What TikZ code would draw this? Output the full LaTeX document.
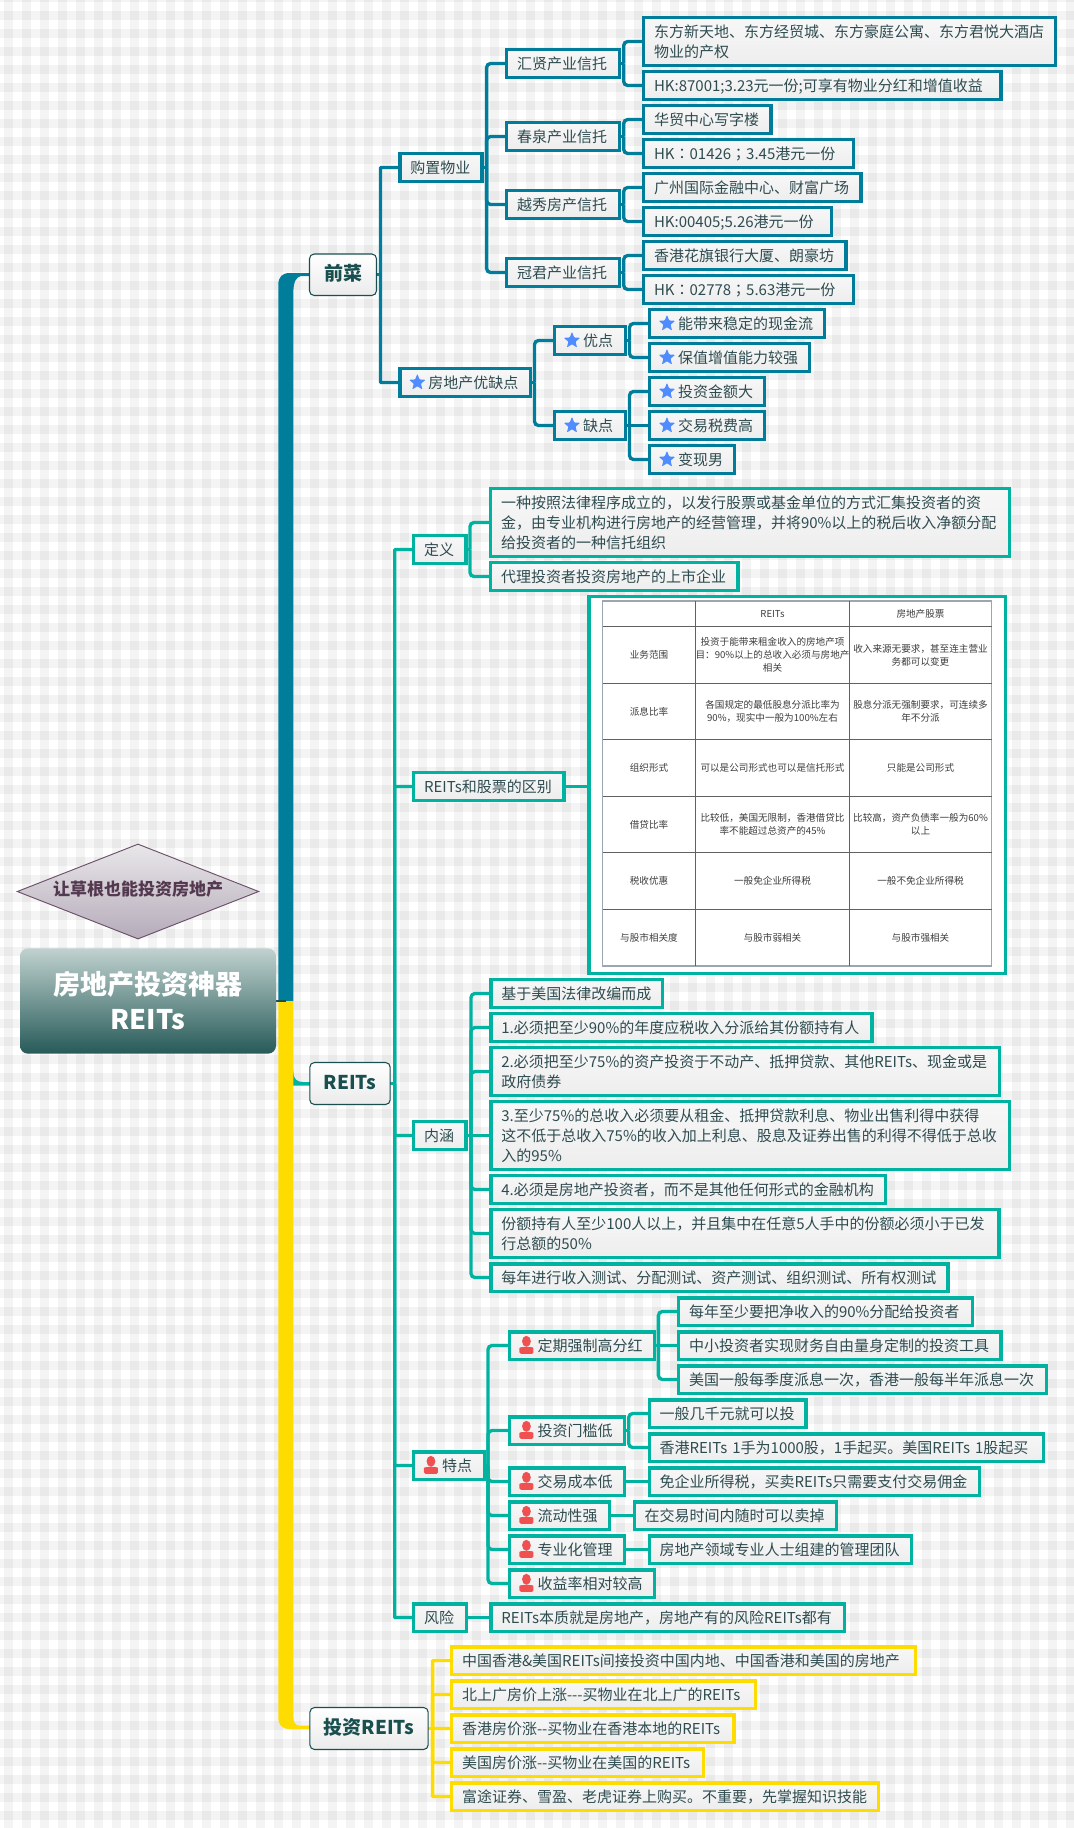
\documentclass[tikz,border=0pt]{standalone}
\usepackage{fontspec}
\setmainfont{Noto Sans CJK SC}
\newfontfamily\tcf{Noto Sans CJK TC}
\usetikzlibrary{shapes.geometric,backgrounds,calc}
\definecolor{tealc}{HTML}{007D9A}
\definecolor{greenc}{HTML}{00B3A0}
\definecolor{yellowc}{HTML}{FFDC00}
\definecolor{txtc}{HTML}{2E4C50}
\definecolor{darkc}{HTML}{1A4F50}
\definecolor{starc}{HTML}{4F8CFF}
\definecolor{personc}{HTML}{F05050}
\definecolor{rootTop}{HTML}{C0D2CF}
\definecolor{rootBot}{HTML}{265A58}
\definecolor{floatLine}{HTML}{6B5068}
\definecolor{floatTop}{HTML}{E9E7EA}
\definecolor{floatBot}{HTML}{B5ABB9}
\definecolor{floatTxt}{HTML}{53384F}
\definecolor{tableOuter}{HTML}{9AA6B2}
\newcommand\lfstrut{\vrule height 12pt depth 3pt width 0pt\relax}
\newcommand\tpstrut{\vrule height 12.5pt depth 3.5pt width 0pt\relax}
\newcommand\flstrut{\vrule height 11pt depth 4.3pt width 0pt\relax}
\tikzset{
  leaf/.style={rectangle,outer sep=0pt,inner xsep=0pt,inner ysep=0pt,line width=2.6pt,
    top color=white!97!black,bottom color=white!93!black,text=txtc,align=left,
    font=\fontsize{11.25pt}{15pt}\selectfont,
    execute at begin node=\lfstrut,execute at end node=\lfstrut},
  blue/.style={draw=tealc},
  grn/.style={draw=greenc},
  yel/.style={draw=yellowc},
  topic/.style={rectangle,rounded corners=3.5pt,draw=darkc,line width=.8pt,outer sep=0pt,inner sep=0pt,
    top color=white,bottom color=white!92!black,text=darkc,align=center,
    font=\fontsize{14.25pt}{17pt}\selectfont\bfseries,
    execute at begin node=\tpstrut},
  cn/.style={line width=2.5pt,rounded corners=3pt},
  cnsharp/.style={line width=2.5pt,rounded corners=.5pt},
  stub/.style={line width=2.5pt},
  cell/.style={text=black!76,inner sep=0pt,align=center,font=\fontsize{7.2pt}{9.6pt}\selectfont},
  tline/.style={draw=black!62,line width=.7pt},
  staricon/.style={star,star points=5,star point ratio=2.3,fill=starc,minimum size=13pt,inner sep=0pt,rounded corners=.6pt},
  personicon/.pic={
    \fill[personc] (0,-3.8) ellipse (3.3pt and 4.1pt);
    \fill[personc,rounded corners=1.2pt] (-7,8.8) -- (-7,4.5) .. controls (-7,2) and (-3,2) .. (0,1.5) .. controls (3,2) and (7,2) .. (7,4.5) -- (7,8.8) -- cycle;
  },
}
\newcommand\bx[7]{%
  \pgfmathsetmacro\bxcx{(#2+#4)/2}\pgfmathsetmacro\bxcy{(#3+#5)/2}%
  \pgfmathsetlengthmacro\bxmw{(#4-#2-3.5)*0.75pt}%
  \pgfmathsetlengthmacro\bxmh{(#5-#3-3.5)*0.75pt}%
  \pgfmathsetlengthmacro\bxtw{(#4-#2-24)*0.75pt}%
  \node[leaf,#6,minimum width=\bxmw,minimum height=\bxmh,text width=\bxtw] (#1) at (\bxcx,\bxcy) {#7};}
\newcommand\sbx[7]{\bx{#1}{#2}{#3}{#4}{#5}{#6}{\hspace*{13.5pt}#7}%
  \node[staricon] (#1-ic) at ([xshift=12.9pt]#1.west) {};}
\newcommand\pbx[7]{\bx{#1}{#2}{#3}{#4}{#5}{#6}{\hspace*{13.5pt}#7}%
  \pic at ([xshift=12.9pt,yshift=.3pt]#1.west) {personicon};}
\newcommand\tp[6]{%
  \pgfmathsetmacro\bxcx{(#2+#4)/2}\pgfmathsetmacro\bxcy{(#3+#5)/2}%
  \pgfmathsetlengthmacro\bxmw{(#4-#2-1)*0.75pt}%
  \pgfmathsetlengthmacro\bxmh{(#5-#3-1)*0.75pt}%
  \node[topic,minimum width=\bxmw,minimum height=\bxmh] (#1) at (\bxcx,\bxcy) {#6};}
% connectors: parent, child, trunk x, colour
\newcommand\cnn[4]{\draw[cn,#4] (#3,0 |- #1.east) -- (#3,0 |- #2.west) -- (#2.west);}
\newcommand\cns[4]{\draw[cnsharp,#4] (#3,0 |- #1.east) -- (#3,0 |- #2.west) -- (#2.west);}
\newcommand\stb[3]{\draw[stub,#3] (#1.east) -- (#2,0 |- #1.east);}
\newcommand\str[3]{\draw[stub,#3] (#1.east) -- (#1.east -| #2.west);}
\begin{document}
\begin{tikzpicture}[x=0.75pt,y=-0.75pt]
\useasboundingbox (0,0) rectangle (1074,1828);
\begin{pgfonlayer}{background}
  \fill[white] (0,0) rectangle (1074,1828);
  \foreach \k in {0,...,59} {\fill[black,fill opacity=.043] ({4+18*\k},0) rectangle ({13+18*\k},1828);}
  \fill[black,fill opacity=.043] (0,0) rectangle (1074,2);
  \foreach \k in {0,...,101} {\fill[black,fill opacity=.043] (0,{11+18*\k}) rectangle (1074,{20+18*\k});}
\end{pgfonlayer}

% root and floating
\node[rectangle,rounded corners=6pt,outer sep=0pt,inner sep=0pt,minimum width=192pt,minimum height=79pt,
  top color=rootTop,bottom color=rootBot,text=white,align=center,
  font=\fontsize{20.25pt}{26.25pt}\selectfont\bfseries] (central) at (148,1001) {房地产投资神器\\REITs};
\node[diamond,aspect=2.55,outer sep=0pt,inner sep=0pt,draw=floatLine,line width=.7pt,minimum width=181pt,minimum height=71pt,
  top color=floatTop,bottom color=floatBot,text=floatTxt,font=\fontsize{12.75pt}{15pt}\selectfont\bfseries] (float) at (138,891.5) {\flstrut 让草根也能投资房地产};

% level 1
\tp{qiancai}{309}{253.5}{377}{296}{前菜}
\tp{reits}{309.3}{1062}{390.7}{1105}{REITs}
\tp{touzi}{309.4}{1707}{428.7}{1750}{投资REITs}

% first branch
\bx{goumai}{398.4}{152}{483.8}{183}{blue}{购置物业}
\sbx{youque}{398.4}{367}{532}{398}{blue}{房地产优缺点}
\bx{huixian}{505}{48}{621.5}{79}{blue}{汇贤产业信托}
\bx{chunquan}{505}{121}{621.5}{152}{blue}{春泉产业信托}
\bx{yuexiu}{505}{189}{621.5}{220}{blue}{越秀房产信托}
\bx{guanjun}{505}{257}{621.5}{288}{blue}{冠君产业信托}
\bx{a1}{642}{16}{1057}{67}{blue}{东方新天地、东方经贸城、东方豪庭公寓、东方君悦大酒店\\物业的产权}
\bx{a2}{642}{70}{1002.6}{101}{blue}{HK:87001;3.23元一份;可享有物业分红和增值收益}
\bx{b1}{642}{104}{772.7}{135}{blue}{华贸中心写字楼}
\bx{b2}{642}{138}{855.4}{169}{blue}{HK{\tcf ：}01426{\tcf ；}3.45港元一份}
\bx{c1}{642}{172}{862.7}{203}{blue}{广州国际金融中心、财富广场}
\bx{c2}{642}{206}{833.5}{237}{blue}{HK:00405;5.26港元一份}
\bx{d1}{642}{240}{847.7}{271}{blue}{香港花旗银行大厦、朗豪坊}
\bx{d2}{642}{274}{855.4}{305}{blue}{HK{\tcf ：}02778{\tcf ；}5.63港元一份}
\sbx{you}{553}{325}{627}{356}{blue}{优点}
\sbx{que}{553}{410}{627}{441}{blue}{缺点}
\sbx{e1}{648}{308}{826.5}{339}{blue}{能带来稳定的现金流}
\sbx{e2}{648}{342}{811.5}{373}{blue}{保值增值能力较强}
\sbx{f1}{648}{376}{766.5}{407}{blue}{投资金额大}
\sbx{f2}{648}{410}{766.5}{441}{blue}{交易税费高}
\sbx{f3}{648}{444}{736.5}{475}{blue}{变现男}

% second branch
\bx{dingyi}{412}{534}{467.8}{565}{grn}{定义}
\bx{g1}{489}{487}{1011}{558}{grn}{一种按照法律程序成立的，以发行股票或基金单位的方式汇集投资者的资\\金，由专业机构进行房地产的经营管理，并将90\%以上的税后收入净额分配\\给投资者的一种信托组织}
\bx{g2}{489}{561}{739.6}{592}{grn}{代理投资者投资房地产的上市企业}
\bx{qubie}{412}{771}{565.7}{802}{grn}{REITs和股票的区别}
\pgfmathsetlengthmacro\imw{(1007-587.3-3.5)*0.75pt}
\pgfmathsetlengthmacro\imh{(975.5-595-3.5)*0.75pt}
\node[rectangle,draw=greenc,fill=white,line width=2.6pt,outer sep=0pt,inner sep=0pt,minimum width=\imw,minimum height=\imh] (img) at (797.15,785.25) {};
\bx{neihan}{412}{1120}{467.6}{1151}{grn}{内涵}
\bx{h1}{489.4}{978}{664.5}{1009}{grn}{基于美国法律改编而成}
\bx{h2}{489.4}{1012}{873.7}{1043}{grn}{1.必须把至少90\%的年度应税收入分派给其份额持有人}
\bx{h3}{489.4}{1046}{1001.4}{1097}{grn}{2.必须把至少75\%的资产投资于不动产、抵押贷款、其他REITs、现金或是\\政府债券}
\bx{h4}{489.4}{1100}{1011}{1171}{grn}{3.至少75\%的总收入必须要从租金、抵押贷款利息、物业出售利得中获得\\这不低于总收入75\%的收入加上利息、股息及证券出售的利得不得低于总收\\入的95\%}
\bx{h5}{489.4}{1174}{887.5}{1205}{grn}{4.必须是房地产投资者，而不是其他任何形式的金融机构}
\bx{h6}{489.4}{1208}{1000.6}{1259}{grn}{份额持有人至少100人以上，并且集中在任意5人手中的份额必须小于已发\\行总额的50\%}
\bx{h7}{489.4}{1262}{949.6}{1293}{grn}{每年进行收入测试、分配测试、资产测试、组织测试、所有权测试}
\pbx{tedian}{412}{1450}{486}{1481}{grn}{特点}
\pbx{dingqi}{507.5}{1330}{656}{1361}{grn}{定期强制高分红}
\pbx{menkan}{507.5}{1415}{626}{1446}{grn}{投资门槛低}
\pbx{jiaoyi}{507.5}{1466}{626}{1497}{grn}{交易成本低}
\pbx{liudong}{507.5}{1500}{611}{1531}{grn}{流动性强}
\pbx{zhuanye}{507.5}{1534}{626}{1565}{grn}{专业化管理}
\pbx{shouyi}{507.5}{1568}{656}{1599}{grn}{收益率相对较高}
\bx{i1}{677}{1296}{974}{1327}{grn}{每年至少要把净收入的90\%分配给投资者}
\bx{i2}{677}{1330}{1002.7}{1361}{grn}{中小投资者实现财务自由量身定制的投资工具}
\bx{i3}{677}{1364}{1048}{1395}{grn}{美国一般每季度派息一次，香港一般每半年派息一次}
\bx{j1}{647.6}{1398}{807.6}{1429}{grn}{一般几千元就可以投}
\bx{j2}{647.6}{1432}{1045}{1463}{grn}{香港REITs 1手为1000股，1手起买。美国REITs 1股起买}
\bx{k1}{647.6}{1466}{981}{1497}{grn}{免企业所得税，买卖REITs只需要支付交易佣金}
\bx{l1}{632.6}{1500}{838}{1531}{grn}{在交易时间内随时可以卖掉}
\bx{m1}{647.6}{1534}{913}{1565}{grn}{房地产领域专业人士组建的管理团队}
\bx{fengxian}{412}{1602}{468}{1633}{grn}{风险}
\bx{n1}{489.4}{1602}{846}{1633}{grn}{REITs本质就是房地产，房地产有的风险REITs都有}

% third branch
\bx{o1}{450}{1645}{917}{1676}{yel}{中国香港\&美国REITs间接投资中国内地、中国香港和美国的房地产}
\bx{o2}{450}{1679}{757}{1710}{yel}{北上广房价上涨{-}{-}{-}买物业在北上广的REITs}
\bx{o3}{450}{1713}{735.7}{1744}{yel}{香港房价涨{-}{-}买物业在香港本地的REITs}
\bx{o4}{450}{1747}{705}{1778}{yel}{美国房价涨{-}{-}买物业在美国的REITs}
\bx{o5}{450}{1781}{880.5}{1812}{yel}{富途证券、雪盈、老虎证券上购买。不重要，先掌握知识技能}

% table (picture inside img)
\draw[draw=tableOuter,line width=.9pt] (602.7,601) rectangle (991.7,966);
\foreach \yy in {626.7,683.3,739.7,796.3,852.7,909} {\draw[tline] (602.7,\yy) -- (991.7,\yy);}
\foreach \xx in {695.7,849.3} {\draw[tline] (\xx,601) -- (\xx,966);}
\node[cell] (t02) at (772.5,614) {REITs};
\node[cell] (t03) at (920.5,614) {房地产股票};
\node[cell] (t11) at (649,655) {业务范围};
\node[cell] (t12) at (772.5,655) {投资于能带来租金收入的房地产项\\目：90\%以上的总收入必须与房地产\\相关};
\node[cell] (t13) at (920.5,655) {收入来源无要求，甚至连主营业\\务都可以变更};
\node[cell] (t21) at (649,711.5) {派息比率};
\node[cell] (t22) at (772.5,711.5) {各国规定的最低股息分派比率为\\90\%，现实中一般为100\%左右};
\node[cell] (t23) at (920.5,711.5) {股息分派无强制要求，可连续多\\年不分派};
\node[cell] (t31) at (649,768) {组织形式};
\node[cell] (t32) at (772.5,768) {可以是公司形式也可以是信托形式};
\node[cell] (t33) at (920.5,768) {只能是公司形式};
\node[cell] (t41) at (649,824.5) {借贷比率};
\node[cell] (t42) at (772.5,824.5) {比较低，美国无限制，香港借贷比\\率不能超过总资产的45\%};
\node[cell] (t43) at (920.5,824.5) {比较高，资产负债率一般为60\%\\以上};
\node[cell] (t51) at (649,881) {税收优惠};
\node[cell] (t52) at (772.5,881) {一般免企业所得税};
\node[cell] (t53) at (920.5,881) {一般不免企业所得税};
\node[cell] (t61) at (649,937.5) {与股市相关度};
\node[cell] (t62) at (772.5,937.5) {与股市弱相关};
\node[cell] (t63) at (920.5,937.5) {与股市强相关};

\begin{pgfonlayer}{background}
  % thick connectors
  \fill[greenc] (central.east -| 285,0) -- (293.3,1072) .. controls (293.3,1079) and (297,1082) .. (303,1082) -- (reits.west |- 0,1082) -- (reits.west |- 0,1085.5) -- (285,1085.5) -- cycle;
  \fill[tealc] (central.east -| 278.3,0) -- (278.3,285) .. controls (278.3,277) and (282,273) .. (290,273) -- (qiancai.west |- 0,273) -- (qiancai.west |- 0,276) -- (301,276) .. controls (296,277) and (293.4,282) .. (293.4,292) -- (central.east -| 293.4,0) -- cycle;
  \fill[yellowc] (central.east -| 278.3,0) -- (278.3,1718) .. controls (278.3,1725) and (282,1729) .. (290,1729) -- (touzi.west |- 0,1729) -- (touzi.west |- 0,1725.7) -- (299,1725.7) .. controls (295,1725) and (293.3,1722) .. (293.3,1716) -- (central.east -| 293.3,0) -- cycle;
  \draw[darkc,line width=1.5pt] (central.east) -- ++(9.5,0);
  % blue
  \stb{qiancai}{380.5}{tealc}
  \cns{qiancai}{goumai}{380.5}{tealc} \cns{qiancai}{youque}{380.5}{tealc}
  \stb{goumai}{486.6}{tealc}
  \cnn{goumai}{huixian}{486.6}{tealc} \cnn{goumai}{chunquan}{486.6}{tealc} \cnn{goumai}{yuexiu}{486.6}{tealc} \cnn{goumai}{guanjun}{486.6}{tealc}
  \stb{huixian}{623.7}{tealc} \cnn{huixian}{a1}{623.7}{tealc} \cnn{huixian}{a2}{623.7}{tealc}
  \stb{chunquan}{623.7}{tealc} \cnn{chunquan}{b1}{623.7}{tealc} \cnn{chunquan}{b2}{623.7}{tealc}
  \stb{yuexiu}{623.7}{tealc} \cnn{yuexiu}{c1}{623.7}{tealc} \cnn{yuexiu}{c2}{623.7}{tealc}
  \stb{guanjun}{623.7}{tealc} \cnn{guanjun}{d1}{623.7}{tealc} \cnn{guanjun}{d2}{623.7}{tealc}
  \stb{youque}{534.5}{tealc} \cnn{youque}{you}{534.5}{tealc} \cnn{youque}{que}{534.5}{tealc}
  \stb{you}{629.5}{tealc} \cnn{you}{e1}{629.5}{tealc} \cnn{you}{e2}{629.5}{tealc}
  \stb{que}{629.5}{tealc} \cnn{que}{f1}{629.5}{tealc} \str{que}{f2}{tealc} \cnn{que}{f3}{629.5}{tealc}
  % green
  \stb{reits}{394.7}{greenc}
  \cns{reits}{dingyi}{394.7}{greenc} \cns{reits}{qubie}{394.7}{greenc} \cns{reits}{neihan}{394.7}{greenc} \cns{reits}{tedian}{394.7}{greenc} \cns{reits}{fengxian}{394.7}{greenc}
  \stb{dingyi}{470}{greenc} \cnn{dingyi}{g1}{470}{greenc} \cnn{dingyi}{g2}{470}{greenc}
  \str{qubie}{img}{greenc}
  \stb{neihan}{471}{greenc}
  \cnn{neihan}{h1}{471}{greenc} \cnn{neihan}{h2}{471}{greenc} \cnn{neihan}{h3}{471}{greenc} \str{neihan}{h4}{greenc} \cnn{neihan}{h5}{471}{greenc} \cnn{neihan}{h6}{471}{greenc} \cnn{neihan}{h7}{471}{greenc}
  \stb{tedian}{488}{greenc}
  \cnn{tedian}{dingqi}{488}{greenc} \cnn{tedian}{menkan}{488}{greenc} \cnn{tedian}{jiaoyi}{488}{greenc} \cnn{tedian}{liudong}{488}{greenc} \cnn{tedian}{zhuanye}{488}{greenc} \cnn{tedian}{shouyi}{488}{greenc}
  \stb{dingqi}{658.4}{greenc} \cnn{dingqi}{i1}{658.4}{greenc} \str{dingqi}{i2}{greenc} \cnn{dingqi}{i3}{658.4}{greenc}
  \stb{menkan}{628.7}{greenc} \cnn{menkan}{j1}{628.7}{greenc} \cnn{menkan}{j2}{628.7}{greenc}
  \str{jiaoyi}{k1}{greenc} \str{liudong}{l1}{greenc} \str{zhuanye}{m1}{greenc} \str{fengxian}{n1}{greenc}
  % yellow
  \stb{touzi}{432.6}{yellowc}
  \cns{touzi}{o1}{432.6}{yellowc} \cns{touzi}{o2}{432.6}{yellowc} \cns{touzi}{o3}{432.6}{yellowc} \cns{touzi}{o4}{432.6}{yellowc} \cns{touzi}{o5}{432.6}{yellowc}
\end{pgfonlayer}
\end{tikzpicture}
\end{document}
